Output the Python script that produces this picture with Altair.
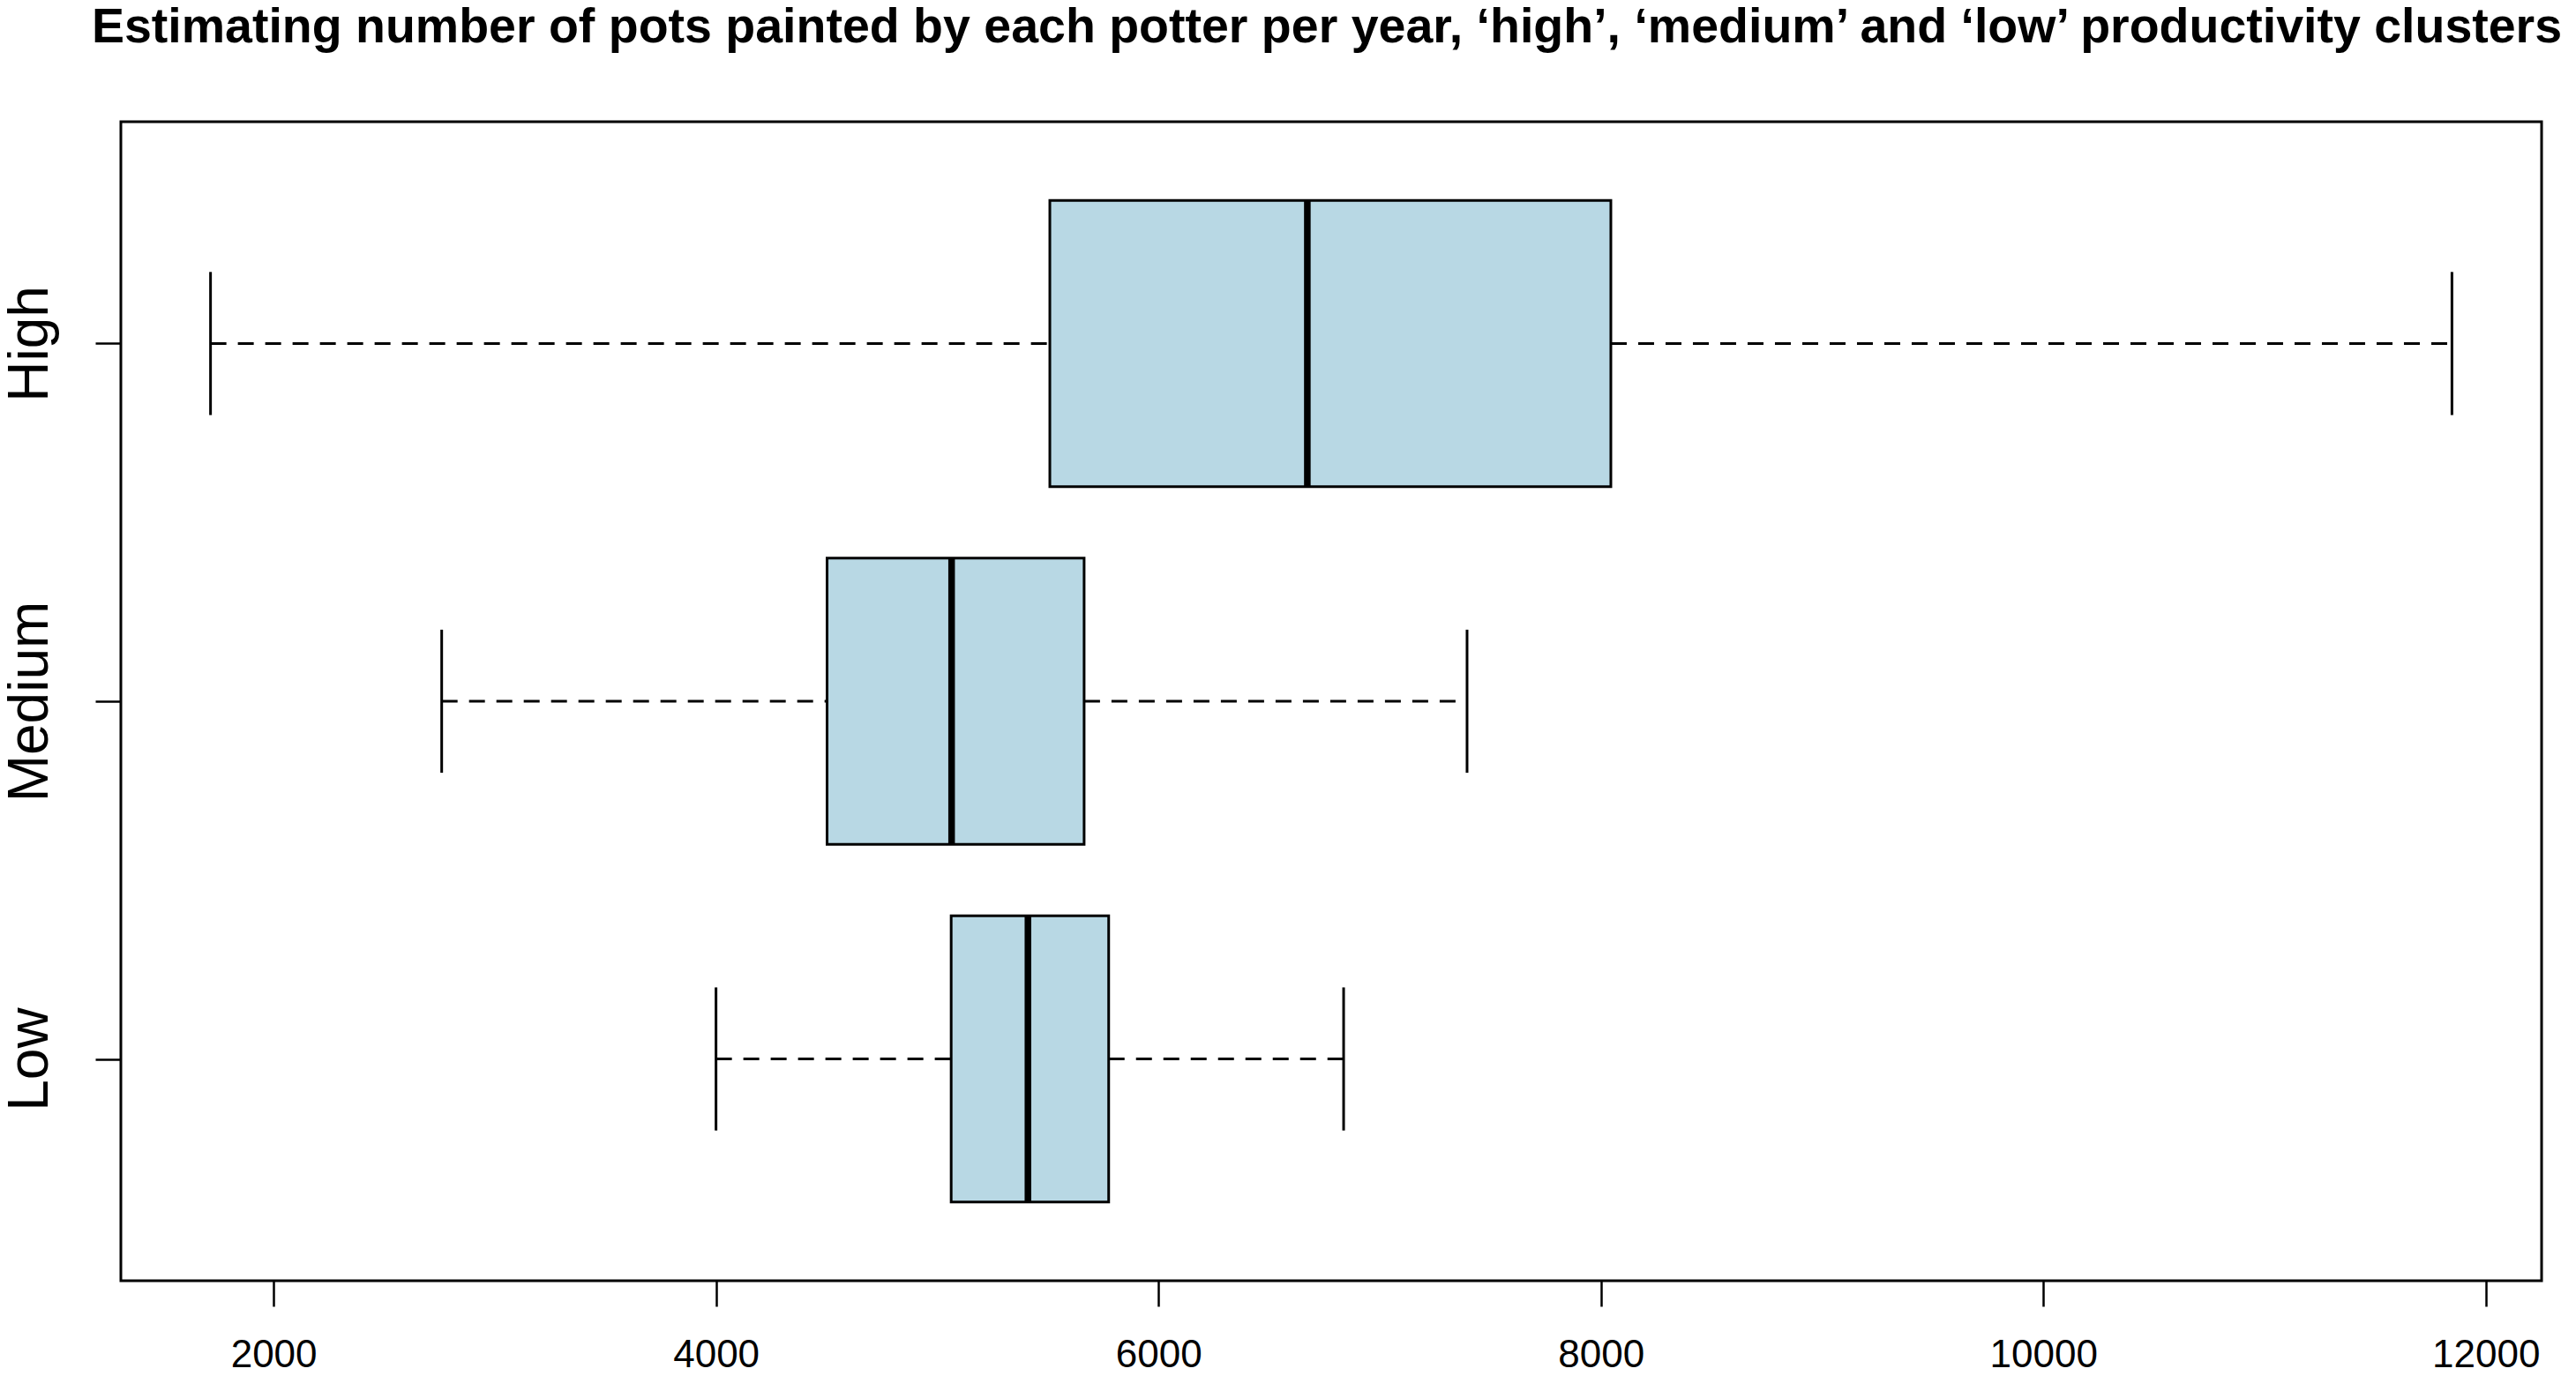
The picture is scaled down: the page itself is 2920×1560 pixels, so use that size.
import altair as alt
import pandas as pd

categories = ["High", "Medium", "Low"]
positions = [3, 2, 1]
whisker_low = [1715, 2760, 4000]
q1 = [5509, 4502, 5063]
median = [6673, 5065, 5410]
q3 = [8045, 5664, 5775]
whisker_high = [11847, 7395, 6837]
x_ticks = [2000, 4000, 6000, 8000, 10000, 12000]

title_text = "Estimating number of pots painted by each potter per year, \u2018high\u2019, \u2018medium\u2019 and \u2018low\u2019 productivity clusters"

df = pd.DataFrame({
    "cat": categories,
    "pos": positions,
    "wlo": whisker_low,
    "q1": q1,
    "med": median,
    "q3": q3,
    "whi": whisker_high,
})

lo = min(whisker_low)
hi = max(whisker_high)
ext = (hi - lo) * 0.04
xdom = [lo - ext, hi + ext]
ydom = [0.5 - 0.12, 3.5 + 0.12]

FONT = "Liberation Sans"
W, H = 2744, 1314

xscale = alt.Scale(domain=xdom, nice=False, zero=False)
yscale = alt.Scale(domain=ydom, nice=False, zero=False)

xaxis = alt.Axis(
    values=x_ticks,
    format="d",
    title=None,
    grid=False,
    domain=False,
    tickSize=29,
    tickWidth=2.5,
    tickColor="black",
    labelFont=FONT,
    labelFontSize=44,
    labelColor="black",
    labelPadding=33,
    labelFlush=False,
)
yaxis = alt.Axis(
    values=[1, 2, 3],
    labelExpr="datum.value == 3 ? 'High' : datum.value == 2 ? 'Medium' : 'Low'",
    title=None,
    grid=False,
    domain=False,
    tickSize=29,
    tickWidth=2.5,
    tickColor="black",
    labelAngle=270,
    labelAlign="center",
    labelBaseline="bottom",
    labelFont=FONT,
    labelFontSize=64,
    labelColor="black",
    labelPadding=42,
    labelFlush=False,
    labelLimit=0,
)

base = alt.Chart(df).transform_calculate(
    blo="datum.pos - 0.4",
    bhi="datum.pos + 0.4",
    clo="datum.pos - 0.2",
    chi="datum.pos + 0.2",
)

whisk_left = base.mark_rule(color="black", strokeWidth=3, strokeDash=[18, 13]).encode(
    x=alt.X("wlo:Q", scale=xscale, axis=xaxis),
    x2="q1:Q",
    y=alt.Y("pos:Q", scale=yscale, axis=yaxis),
)
whisk_right = base.mark_rule(color="black", strokeWidth=3, strokeDash=[18, 13]).encode(
    x=alt.X("q3:Q", scale=xscale),
    x2="whi:Q",
    y=alt.Y("pos:Q", scale=yscale),
)
cap_lo = base.mark_rule(color="black", strokeWidth=3).encode(
    x=alt.X("wlo:Q", scale=xscale),
    y=alt.Y("clo:Q", scale=yscale),
    y2="chi:Q",
)
cap_hi = base.mark_rule(color="black", strokeWidth=3).encode(
    x=alt.X("whi:Q", scale=xscale),
    y=alt.Y("clo:Q", scale=yscale),
    y2="chi:Q",
)
boxes = base.mark_rect(fill="#B8D8E4", stroke="black", strokeWidth=3).encode(
    x=alt.X("q1:Q", scale=xscale),
    x2="q3:Q",
    y=alt.Y("blo:Q", scale=yscale),
    y2="bhi:Q",
)
meds = base.mark_rule(color="black", strokeWidth=7.5).encode(
    x=alt.X("med:Q", scale=xscale),
    y=alt.Y("blo:Q", scale=yscale),
    y2="bhi:Q",
)
title_mark = alt.Chart(pd.DataFrame({"t": [title_text]})).mark_text(
    font=FONT,
    fontSize=55.5,
    fontWeight="bold",
    color="black",
    align="center",
    baseline="alphabetic",
).encode(
    text="t:N",
    x=alt.value(W / 2 - 5),
    y=alt.value(-90),
)

chart = alt.layer(whisk_left, whisk_right, cap_lo, cap_hi, boxes, meds, title_mark).properties(
    width=W,
    height=H,
    padding={"left": 129, "top": 130, "right": 31, "bottom": 100},
    autosize=alt.AutoSizeParams(type="none"),
    background="white",
).configure_view(
    stroke="black", strokeWidth=3
)

chart.save("out.html", embed_options={"renderer": "svg", "actions": False})
